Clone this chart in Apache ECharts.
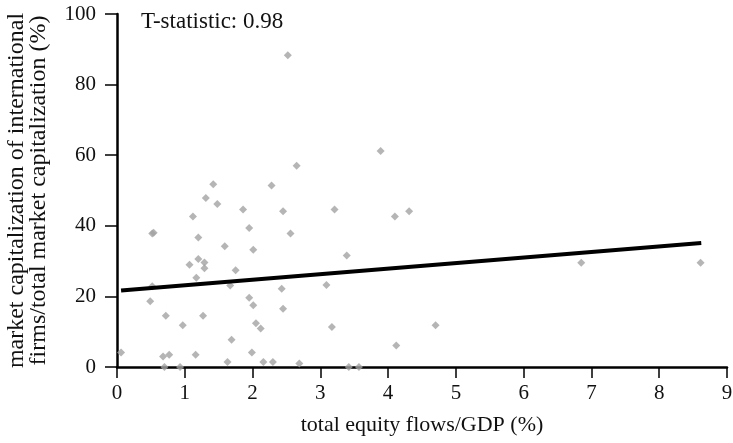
<!DOCTYPE html>
<html>
<head>
<meta charset="utf-8">
<script src="https://cdn.jsdelivr.net/npm/echarts@6/dist/echarts.min.js"></script>
<style>html,body{margin:0;padding:0;background:#fff;}#c{width:733px;height:443px;}</style>
</head>
<body>
<div id="c"></div>
<script>
const xValues = [2.52,3.89,2.65,1.42,2.28,1.31,1.48,1.12,1.86,2.45,3.21,4.10,4.31,0.52,0.54,1.95,1.20,2.56,1.59,2.01,1.20,1.29,1.07,1.29,1.75,3.39,1.17,1.67,0.52,2.43,3.09,0.49,1.95,2.01,2.45,0.72,1.27,0.97,2.05,2.12,3.17,1.69,4.12,0.06,0.68,0.77,1.16,1.99,1.63,2.16,2.30,2.69,0.70,0.93,3.42,3.57,6.85,8.61,4.70];
const yValues = [88.3,61.2,57.0,51.8,51.4,47.9,46.2,42.6,44.6,44.1,44.6,42.6,44.1,37.8,38.0,39.4,36.7,37.8,34.2,33.2,30.6,29.6,29.0,28.0,27.4,31.6,25.3,23.1,22.9,22.2,23.2,18.6,19.6,17.5,16.5,14.5,14.5,11.8,12.4,10.9,11.3,7.7,6.1,4.1,3.0,3.5,3.5,4.1,1.4,1.4,1.4,1.0,0,0,0,0,29.5,29.5,11.8];
const fitX = [0.06, 8.62];
const fitY = [21.7, 35.1];
const xTicks = [0,1,2,3,4,5,6,7,8,9];
const yTicks = [0,20,40,60,80,100];
const tStatText = 'T-statistic: 0.98';
const xTitle = 'total equity flows/GDP (%)';
const yTitle = 'market capitalization of international\nfirms/total market capitalization (%)';

const FONT = '"Liberation Serif", "DejaVu Serif", serif';
const chart = echarts.init(document.getElementById('c'), null, {renderer: 'canvas'});
chart.setOption({
  animation: false,
  backgroundColor: '#fff',
  textStyle: {fontFamily: FONT},
  grid: {left: 117, right: 6, top: 14, bottom: 76, containLabel: false, outerBoundsMode: 'none'},
  xAxis: {
    type: 'value', min: xTicks[0], max: xTicks[xTicks.length-1], interval: 1,
    name: xTitle, nameLocation: 'middle', nameGap: 47,
    nameTextStyle: {fontFamily: FONT, fontSize: 22, color: '#111'},
    axisLine: {onZero: false, lineStyle: {color: '#000', width: 2.5}},
    axisTick: {length: 11, lineStyle: {color: '#000', width: 1.5}},
    axisLabel: {fontFamily: FONT, fontSize: 21, color: '#111', margin: 16},
    splitLine: {show: false}
  },
  yAxis: {
    type: 'value', min: yTicks[0], max: yTicks[yTicks.length-1], interval: 20,
    name: yTitle, nameLocation: 'middle', nameGap: 67,
    nameTextStyle: {fontFamily: FONT, fontSize: 24, color: '#111', lineHeight: 22},
    axisLine: {onZero: false, lineStyle: {color: '#000', width: 2.5}},
    axisTick: {length: 12, lineStyle: {color: '#000', width: 1.5}},
    axisLabel: {fontFamily: FONT, fontSize: 21, color: '#111', margin: 21},
    splitLine: {show: false}
  },
  graphic: [{
    type: 'text', left: 141, top: 10,
    style: {text: tStatText, font: '23px ' + FONT, fill: '#111'}
  }],
  series: [{
    type: 'scatter',
    data: xValues.map((x, i) => [x, yValues[i]]),
    symbol: 'diamond', symbolSize: 8,
    itemStyle: {color: '#a3a3a3'},
    clip: false, z: 1
  }, {
    type: 'line',
    data: fitX.map((x, i) => [x, fitY[i]]),
    symbol: 'none',
    lineStyle: {color: '#000', width: 4},
    z: 3
  }]
});
</script>
</body>
</html>
